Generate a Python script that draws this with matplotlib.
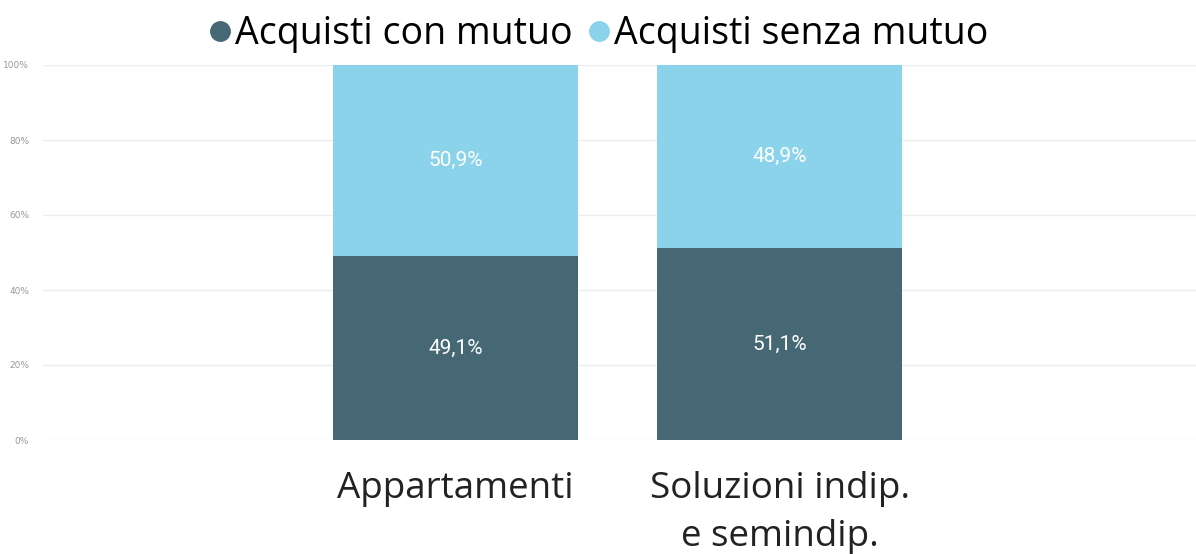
import matplotlib.pyplot as plt
import numpy as np

categories = ['Appartamenti', 'Soluzioni indip.\ne semindip.']
con_mutuo = [49.1, 51.1]
senza_mutuo = [50.9, 48.9]
series_names = ['Acquisti con mutuo', 'Acquisti senza mutuo']
colors = ['#466874', '#8BD3EA']

fig = plt.figure(figsize=(11.96, 5.54), dpi=100)
ax = fig.add_axes([43 / 1196, 1 - 440 / 554, 1 - 43 / 1196, 375 / 554])

x = np.arange(len(categories))
w = 0.756
b1 = ax.bar(x, con_mutuo, width=w, color=colors[0], zorder=2)
b2 = ax.bar(x, senza_mutuo, width=w, bottom=con_mutuo, color=colors[1], zorder=2)

for bars, vals, bottoms in [(b1, con_mutuo, [0, 0]), (b2, senza_mutuo, con_mutuo)]:
    for bar, v, b in zip(bars, vals, bottoms):
        ax.text(bar.get_x() + bar.get_width() / 2, b + v / 2,
                f'{v:.1f}%'.replace('.', ','), ha='center', va='center',
                color='white', fontsize=15, family='Roboto')

ax.set_xlim(-1.273, 2.285)
ax.set_ylim(0, 100)
ax.set_yticks(range(0, 101, 20))
ax.set_yticklabels([f'{t}%' for t in range(0, 101, 20)], fontsize=6.5, color='#999999')
ax.tick_params(axis='y', length=0, pad=10)
ax.set_xticks(x)
ax.set_xticklabels(categories, fontsize=26.5, family='Open Sans', color='#222222',
                   linespacing=1.45)
ax.tick_params(axis='x', length=0, pad=22)
ax.grid(axis='y', color='#EDEDED', linewidth=1, zorder=0)
for s in ax.spines.values():
    s.set_visible(False)

handles = [plt.Line2D([], [], marker='o', linestyle='', markersize=14, color=c) for c in colors]
fig.legend(handles, series_names, loc='center', bbox_to_anchor=(0.5, 1 - 34 / 554),
           ncol=2, frameon=False, prop={'family': 'Open Sans', 'size': 27},
           handletextpad=0.05, columnspacing=0.35, handlelength=0.7)

fig.savefig('out.png', dpi=100)
